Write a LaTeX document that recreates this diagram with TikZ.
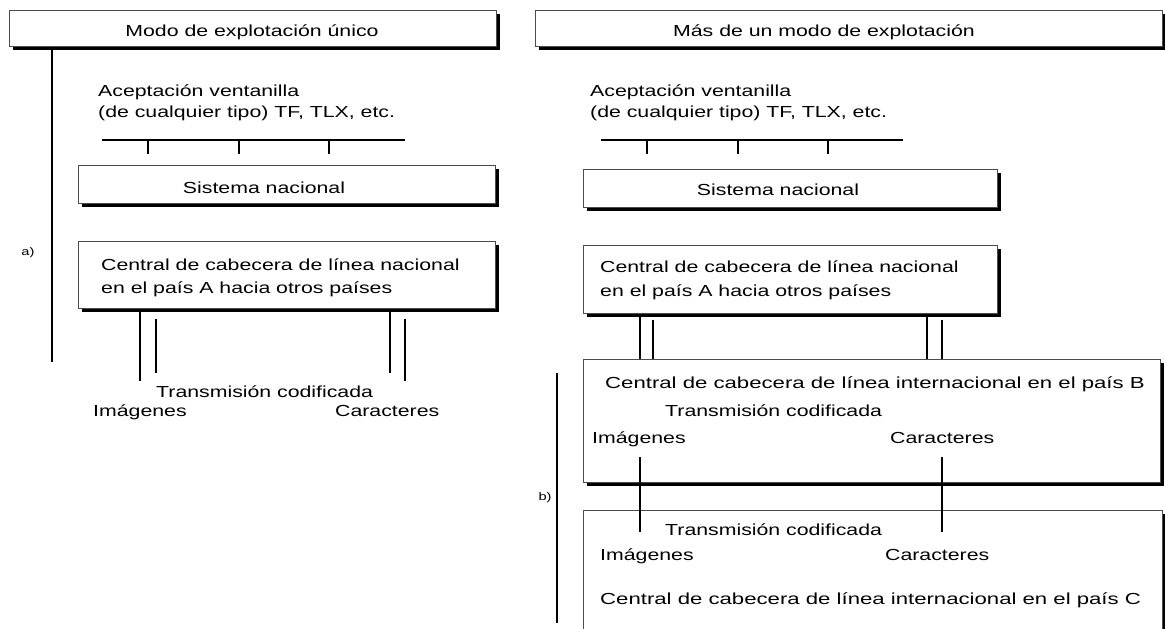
\documentclass[tikz,border=0pt]{standalone}
\usepackage{fontspec}
\setmainfont{Liberation Sans}[FakeStretch=1.33]
\newfontfamily\widefont{Liberation Sans}[FakeStretch=1.385]
\usetikzlibrary{shadows}
\begin{document}
\begin{tikzpicture}[x=1pt,y=-1pt,
  box/.style={draw=black!70, line width=1pt, fill=white, inner sep=0pt, outer sep=0pt,
    drop shadow={shadow xshift=4pt, shadow yshift=-4pt, fill=black, opacity=1}},
  txt/.style={inner sep=0pt, anchor=base west, font=\fontsize{16}{21}\selectfont},
  wtxt/.style={inner sep=0pt, anchor=base west, font=\widefont\fontsize{16}{21}\selectfont},
  ctxt/.style={inner sep=0pt, anchor=base, font=\fontsize{16}{21}\selectfont},
  lbl/.style={inner sep=0pt, font=\fontsize{11}{13}\selectfont},
  ln/.style={line width=2pt, black}]
\useasboundingbox (0,0) rectangle (1165,629);
\fill[white] (0,0) rectangle (1165,629);

% boxes
\node[box, minimum width=487pt, minimum height=36pt] (hL) at (252.5,28) {};
\node[box, minimum width=627pt, minimum height=36pt] (hR) at (848.5,28) {};
\node[box, minimum width=417pt, minimum height=38pt] (snL) at (286.5,184) {};
\node[box, minimum width=414pt, minimum height=38pt] (snR) at (790,188) {};
\node[box, minimum width=417pt, minimum height=67pt] (caL) at (286.5,274.5) {};
\node[box, minimum width=414pt, minimum height=68pt] (caR) at (790,279) {};
\node[box, minimum width=577pt, minimum height=123pt] (B) at (871.5,420.5) {};
\node[box, minimum width=579pt, minimum height=130pt] (C) at (872.5,575) {};

% texts
\node[ctxt] (thL) at (252,36) {Modo de explotación único};
\node[ctxt] (thR) at (824,36) {Más de un modo de explotación};
\node[txt] (acL1) at (98,96) {Aceptación ventanilla};
\node[txt] (acL2) at (98,117) {(de cualquier tipo) TF, TLX, etc.};
\node[txt] (acR1) at (590,96) {Aceptación ventanilla};
\node[txt] (acR2) at (590,117) {(de cualquier tipo) TF, TLX, etc.};
\node[ctxt] (tsnL) at (264,193) {Sistema nacional};
\node[ctxt] (tsnR) at (778,195) {Sistema nacional};
\node[txt] (tcaL1) at (101,270) {Central de cabecera de línea nacional};
\node[txt] (tcaL2) at (101,293) {en el país A hacia otros países};
\node[txt] (tcaR1) at (600,272) {Central de cabecera de línea nacional};
\node[txt] (tcaR2) at (600,296) {en el país A hacia otros países};
\node[txt] (trL) at (156,397) {Transmisión codificada};
\node[txt] (imL) at (93,416) {Imágenes};
\node[txt] (caraL) at (335,416) {Caracteres};
\node[wtxt] (tB) at (605,388) {Central de cabecera de línea internacional en el país B};
\node[txt] (trB) at (665,416) {Transmisión codificada};
\node[txt] (imB) at (592,443) {Imágenes};
\node[txt] (caraB) at (890,443) {Caracteres};
\node[txt] (trC) at (665,535) {Transmisión codificada};
\node[txt] (imC) at (600,560) {Imágenes};
\node[txt] (caraC) at (885,560) {Caracteres};
\node[wtxt] (tC) at (600,604) {Central de cabecera de línea internacional en el país C};
\node[lbl] (la) at (28,253) {a)};
\node[lbl] (lb) at (545,498) {b)};

% free coordinates
\coordinate (aEnd) at (52,362);
\coordinate (bTop) at (557,373);
\coordinate (bEnd) at (557,623);
\coordinate (busL1) at (102,140);
\coordinate (busL2) at (405,140);
\coordinate (busR1) at (601,140);
\coordinate (busR2) at (903,140);

% brackets
\draw[ln] ([xshift=43pt,yshift=-4pt]hL.south west) -- (aEnd);
\draw[ln] (bTop) -- (bEnd);

% buses
\draw[ln] (busL1) -- (busL2);
\foreach \x in {148,239,329} \draw[ln] (\x,140) -- (\x,154);
\draw[ln] (busR1) -- (busR2);
\foreach \x in {647,738,828} \draw[ln] (\x,140) -- (\x,154);

% left double lines
\coordinate (dL1) at (140,381);
\coordinate (dL2) at (156,373);
\coordinate (dL3) at (390,373);
\coordinate (dL4) at (405,381);
\draw[ln] ([xshift=62pt,yshift=-4pt]caL.south west) -- (dL1);
\draw[ln] ([xshift=78pt,yshift=-11pt]caL.south west) -- (dL2);
\draw[ln] ([xshift=312pt,yshift=-4pt]caL.south west) -- (dL3);
\draw[ln] ([xshift=327pt,yshift=-11pt]caL.south west) -- (dL4);

% right double lines to B
\draw[ln] ([xshift=57pt,yshift=-4pt]caR.south west) -- ([xshift=57pt]B.north west);
\draw[ln] ([xshift=70pt,yshift=-7pt]caR.south west) -- ([xshift=70pt]B.north west);
\draw[ln] ([xshift=344pt,yshift=-4pt]caR.south west) -- ([xshift=344pt]B.north west);
\draw[ln] ([xshift=359pt,yshift=-7pt]caR.south west) -- ([xshift=359pt]B.north west);

% B to C
\draw[ln] ([xshift=57pt,yshift=25pt]B.south west) -- ([xshift=57pt,yshift=-22pt]C.north west);
\draw[ln] ([xshift=359pt,yshift=25pt]B.south west) -- ([xshift=359pt,yshift=-22pt]C.north west);
\end{tikzpicture}
\end{document}
